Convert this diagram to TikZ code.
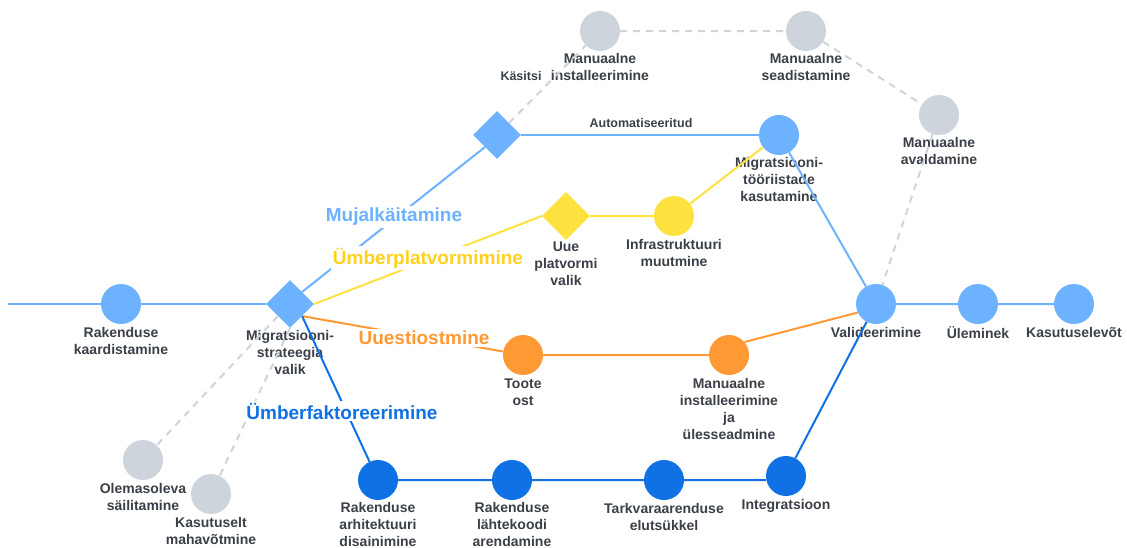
\documentclass[tikz,border=0pt]{standalone}
\usepackage{fontspec}
\setmainfont{Liberation Sans}
\usetikzlibrary{shapes.geometric}
\usetikzlibrary{positioning}

\definecolor{lightblue}{HTML}{6CB2FF}
\definecolor{darkblue}{HTML}{1071E5}
\definecolor{sunyellow}{HTML}{FFE13F}
\definecolor{labelyellow}{HTML}{FFD11F}
\definecolor{migorange}{HTML}{FF9933}
\definecolor{stopgray}{HTML}{CED4DB}
\definecolor{textgray}{HTML}{3A3F48}

\tikzset{
	stop/.style={circle, minimum size=40pt, inner sep=0pt, fill=#1},
	choice/.style={diamond, minimum size=48pt, inner sep=0pt, fill=#1},
	stoplabel/.style={align=center, text=textgray, inner sep=0pt,
		font=\fontsize{14}{17}\selectfont\bfseries},
	routetext/.style={fill=white, inner sep=2pt, text=#1,
		font=\fontsize{19}{22}\selectfont\bfseries},
	edgetext/.style={text=textgray, inner sep=0pt,
		font=\fontsize{12.5}{15}\selectfont\bfseries},
	track/.style={line width=2pt, draw=#1},
	manualtrack/.style={line width=2pt, draw=stopgray, dash pattern=on 7pt off 6pt},
}

\begin{document}
\begin{tikzpicture}[x=1pt, y=-1pt]
	\useasboundingbox (0,0) rectangle (1127,547);

	% stops
	\coordinate (start) at (8,304);
	\node[stop=lightblue] (kaart) at (121,304) {};
	\node[choice=lightblue] (strat) at (290,304) {};
	\node[choice=lightblue] (mujal) at (497,135) {};
	\node[stop=stopgray] (maninst) at (600,31) {};
	\node[stop=stopgray] (manseade) at (806,31) {};
	\node[stop=stopgray] (manavald) at (939,115) {};
	\node[stop=lightblue] (tools) at (779,135) {};
	\node[choice=sunyellow] (platv) at (566,216) {};
	\node[stop=sunyellow] (infra) at (674,216) {};
	\node[stop=lightblue] (valid) at (876,304) {};
	\node[stop=lightblue] (ulem) at (978,304) {};
	\node[stop=lightblue] (kasut) at (1074,304) {};
	\node[stop=migorange] (toote) at (523,355) {};
	\node[stop=migorange] (paigald) at (729,355) {};
	\node[stop=darkblue] (arhit) at (378,480) {};
	\node[stop=darkblue] (lahte) at (512,480) {};
	\node[stop=darkblue] (tarkv) at (664,480) {};
	\node[stop=darkblue] (integ) at (786,476) {};
	\node[stop=stopgray] (olem) at (143,460) {};
	\node[stop=stopgray] (mahav) at (211,494) {};

	% labels under the stops
	\node[stoplabel, below=3pt of kaart] (kaart_l) {Rakenduse\\kaardistamine};
	\node[stoplabel, below=2pt of strat] (strat_l) {Migratsiooni-\\strateegia\\valik};
	\node[stoplabel, below=2pt of maninst] (maninst_l) {Manuaalne\\installeerimine};
	\node[stoplabel, below=2pt of manseade] (manseade_l) {Manuaalne\\seadistamine};
	\node[stoplabel, below=2pt of manavald] (manavald_l) {Manuaalne\\avaldamine};
	\node[stoplabel, below=2pt of tools] (tools_l) {Migratsiooni-\\tööriistade\\kasutamine};
	\node[stoplabel, below=1pt of platv] (platv_l) {Uue\\platvormi\\valik};
	\node[stoplabel, below=3pt of infra] (infra_l) {Infrastruktuuri\\muutmine};
	\node[stoplabel, below=3pt of valid] (valid_l) {Valideerimine};
	\node[stoplabel, below=2pt of ulem] (ulem_l) {Üleminek};
	\node[stoplabel, below=3pt of kasut] (kasut_l) {Kasutuselevõt};
	\node[stoplabel, below=3pt of toote] (toote_l) {Toote\\ost};
	\node[stoplabel, below=3pt of paigald] (paigald_l) {Manuaalne\\installeerimine\\ja\\ülesseadmine};
	\node[stoplabel, below=2pt of arhit] (arhit_l) {Rakenduse\\arhitektuuri\\disainimine};
	\node[stoplabel, below=2pt of lahte] (lahte_l) {Rakenduse\\lähtekoodi\\arendamine};
	\node[stoplabel, below=3pt of tarkv] (tarkv_l) {Tarkvaraarenduse\\elutsükkel};
	\node[stoplabel, below=3pt of integ] (integ_l) {Integratsioon};
	\node[stoplabel, below=3pt of olem] (olem_l) {Olemasoleva\\säilitamine};
	\node[stoplabel, below=3pt of mahav] (mahav_l) {Kasutuselt\\mahavõtmine};

	% gray manual routes
	\draw[manualtrack] (mujal.north east) -- (maninst) -- (manseade) -- (manavald) -- (valid);
	\draw[manualtrack] (strat.south west) -- (olem);
	\draw[manualtrack] (strat.south) -- (mahav);

	% rehosting
	\draw[track=lightblue] (start) -- (kaart) -- (strat);
	\draw[track=lightblue] (strat.north east) -- (mujal.south west);
	\draw[track=lightblue] (mujal.east) -- (tools);
	\draw[track=lightblue] (tools) -- (valid) -- (ulem) -- (kasut);

	% replatforming
	\draw[track=sunyellow] (strat.east) -- (platv.west);
	\draw[track=sunyellow] (platv) -- (infra) -- (tools);

	% repurchasing
	\draw[track=migorange] (strat.south east) -- (toote) -- (paigald);
	\draw[track=migorange] (paigald.40) -- (valid.205);

	% refactoring
	\draw[track=darkblue] (strat.south east) -- (arhit) -- (lahte) -- (tarkv) -- (integ.west |- tarkv);
	\draw[track=darkblue] (integ) -- (valid);

	% route names
	\node[routetext=lightblue] (mujal_t) at (394,217) {Mujalkäitamine};
	\node[routetext=labelyellow] (platv_t) at (428,258) {Ümberplatvormimine};
	\node[routetext=migorange] (toote_t) at (424,338) {Uuestiostmine};
	\node[routetext=darkblue] (arhit_t) at (342,411) {Ümberfaktoreerimine};

	\node[edgetext] (kasitsi) at (521,76) {Käsitsi};
	\node[edgetext] (autom) at (641,123) {Automatiseeritud};
\end{tikzpicture}
\end{document}
